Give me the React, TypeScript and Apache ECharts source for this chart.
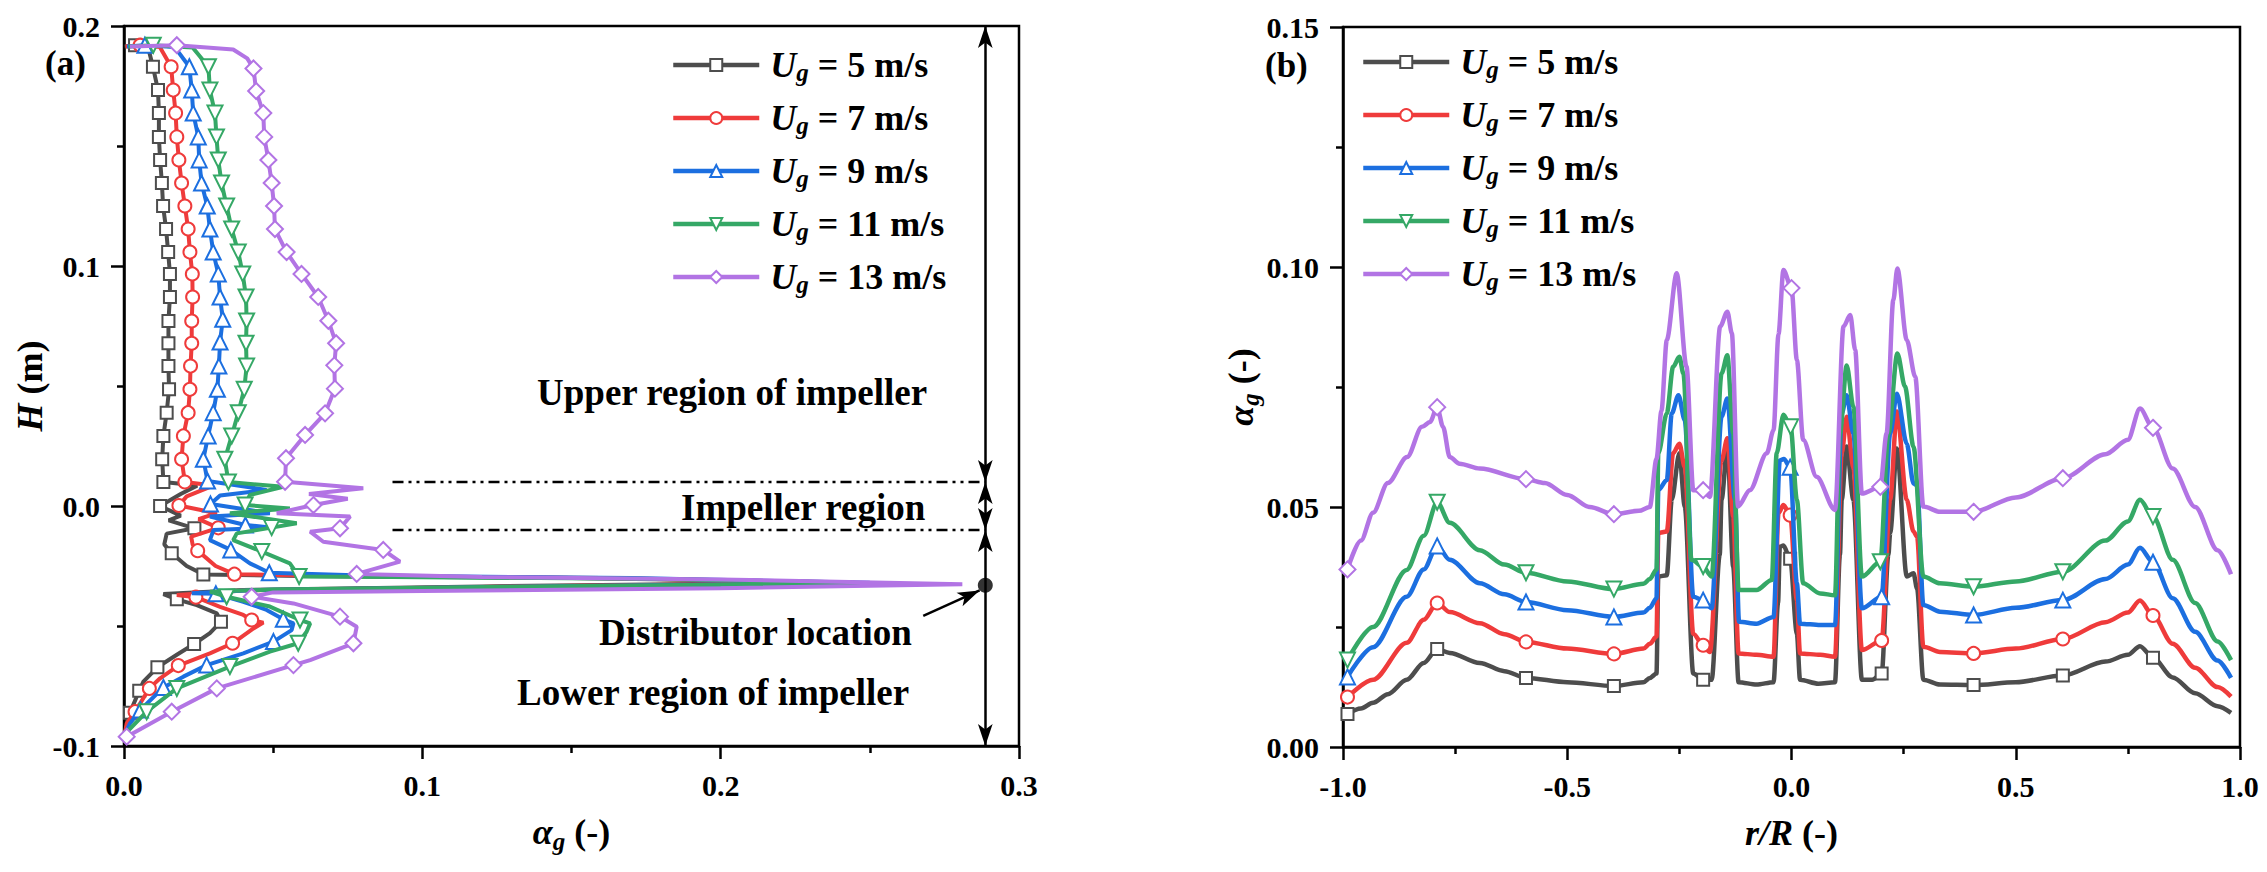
import React, { useEffect, useRef } from 'react';
import * as echarts from 'echarts';

const FONT = '"Liberation Serif", "Times New Roman", serif';

// ---- categories / legend ----
const speeds = [5, 7, 9, 11, 13];
const seriesNames = speeds.map((s) => `U_g = ${s} m/s`);

// ---- axis ranges [min, max, interval] ----
const leftX = [0, 0.3, 0.1];
const leftY = [-0.1, 0.2, 0.1];
const rightX = [-1, 1, 0.5];
const rightY = [0, 0.15, 0.05];

// ---- annotations (panel a) ----
const regionBounds = [0.2, 0.01, -0.01, -0.1];
const annotX = 0.2887;
const dashStartX = 0.09;
const distributorH = -0.033;
const pointerFrom = [0.2679, -0.0458];
const pointerTo = [0.2868, -0.0352];

// ---- panel (a): [alpha_g, H, marker] ----
const a5 = [
  [0.0002, 0.1915, 0], [0.0037, 0.192, 1], [0.008, 0.1915, 0], [0.0097, 0.183, 1], [0.0114, 0.1733, 1],
  [0.0117, 0.1637, 1], [0.0117, 0.1538, 1], [0.0121, 0.1442, 1], [0.0127, 0.1346, 1], [0.0131, 0.125, 1],
  [0.0141, 0.1154, 1], [0.0148, 0.1058, 1], [0.0154, 0.0967, 1], [0.0154, 0.0871, 1], [0.0149, 0.0771, 1],
  [0.0149, 0.0678, 1], [0.0149, 0.0583, 1], [0.0151, 0.0486, 1], [0.0143, 0.0389, 1], [0.0132, 0.0292, 1],
  [0.0128, 0.0195, 1], [0.0132, 0.01, 1], [0.0245, 0.0085, 0], [0.019, 0.005, 0], [0.0121, 0.0, 1],
  [0.019, -0.004, 0], [0.015, -0.006, 0], [0.0236, -0.0093, 1], [0.0143, -0.0115, 0], [0.0135, -0.016, 0],
  [0.016, -0.0197, 1], [0.021, -0.025, 0], [0.0266, -0.0285, 1], [0.06, -0.0292, 0], [0.15, -0.03, 0],
  [0.24, -0.0318, 0], [0.12, -0.0335, 0], [0.04, -0.035, 0], [0.0132, -0.0367, 0], [0.0177, -0.0389, 1],
  [0.0244, -0.0413, 0], [0.0311, -0.0447, 0], [0.0325, -0.0482, 1], [0.0288, -0.053, 0], [0.0235, -0.0575, 1],
  [0.0177, -0.062, 0], [0.0112, -0.0672, 1], [0.0065, -0.0732, 0], [0.0051, -0.077, 1], [0.002, -0.0861, 1],
  [0.0003, -0.0947, 0],
];
const a7 = [
  [0.0005, 0.1915, 0], [0.0054, 0.192, 1], [0.012, 0.1912, 0], [0.0158, 0.183, 1], [0.0165, 0.1733, 1],
  [0.0173, 0.1637, 1], [0.0177, 0.1538, 1], [0.0184, 0.1442, 1], [0.0193, 0.1346, 1], [0.0204, 0.125, 1],
  [0.0215, 0.1154, 1], [0.0221, 0.1058, 1], [0.0229, 0.0967, 1], [0.023, 0.0871, 1], [0.0227, 0.0771, 1],
  [0.0227, 0.0678, 1], [0.0223, 0.0583, 1], [0.0221, 0.0486, 1], [0.0215, 0.0389, 1], [0.0199, 0.0292, 1],
  [0.0193, 0.0195, 1], [0.0204, 0.01, 1], [0.0299, 0.0085, 0], [0.021, 0.004, 0], [0.0184, 0.0002, 1],
  [0.0311, -0.003, 0], [0.025, -0.0055, 0], [0.0316, -0.0091, 1], [0.0225, -0.0128, 0], [0.023, -0.016, 0],
  [0.0247, -0.0186, 1], [0.0307, -0.025, 0], [0.037, -0.0284, 1], [0.07, -0.0292, 0], [0.16, -0.03, 0],
  [0.245, -0.032, 0], [0.12, -0.0337, 0], [0.04, -0.0352, 0], [0.0177, -0.0371, 0], [0.0241, -0.038, 1],
  [0.0322, -0.042, 0], [0.04, -0.0454, 0], [0.0428, -0.0475, 1], [0.0467, -0.0486, 0], [0.0434, -0.051, 0],
  [0.0364, -0.0572, 1], [0.0288, -0.0614, 0], [0.0182, -0.0665, 1], [0.0121, -0.0718, 0], [0.0085, -0.076, 1],
  [0.0037, -0.0857, 1], [0.0009, -0.0906, 0], [0.0003, -0.0947, 0],
];
const a9 = [
  [0.001, 0.1915, 0], [0.007, 0.192, 1], [0.017, 0.1912, 0], [0.0219, 0.183, 1], [0.0227, 0.1733, 1],
  [0.0232, 0.1637, 1], [0.0249, 0.1538, 1], [0.0252, 0.1442, 1], [0.026, 0.1346, 1], [0.0279, 0.125, 1],
  [0.0288, 0.1154, 1], [0.0299, 0.1058, 1], [0.0316, 0.0967, 1], [0.0322, 0.0871, 1], [0.0331, 0.0778, 1],
  [0.0322, 0.0683, 1], [0.0318, 0.0583, 1], [0.0313, 0.0486, 1], [0.0299, 0.0389, 1], [0.0282, 0.0292, 1],
  [0.0266, 0.0195, 1], [0.028, 0.0104, 1], [0.0478, 0.0067, 0], [0.0322, 0.0044, 0], [0.029, 0.0008, 1],
  [0.0489, -0.003, 0], [0.0288, -0.0044, 0], [0.0407, -0.0079, 1], [0.049, -0.009, 0], [0.03, -0.01, 0],
  [0.0288, -0.0142, 0], [0.0358, -0.0183, 1], [0.0422, -0.0239, 0], [0.0487, -0.0278, 1], [0.08, -0.029, 0],
  [0.17, -0.03, 0], [0.25, -0.032, 0], [0.13, -0.0336, 0], [0.045, -0.035, 0], [0.0227, -0.0364, 0],
  [0.0308, -0.0366, 1], [0.04, -0.0399, 0], [0.0478, -0.0433, 0], [0.0534, -0.0472, 1], [0.0568, -0.0489, 0],
  [0.0562, -0.0517, 0], [0.0501, -0.0565, 1], [0.04, -0.0614, 0], [0.0277, -0.0663, 1], [0.0199, -0.0711, 0],
  [0.0132, -0.0756, 1], [0.0055, -0.085, 1], [0.002, -0.0906, 0], [0.0003, -0.095, 0],
];
const a11 = [
  [0.0015, 0.1915, 0], [0.0098, 0.192, 1], [0.023, 0.191, 0], [0.0283, 0.183, 1], [0.0288, 0.1733, 1],
  [0.0305, 0.1637, 1], [0.031, 0.1538, 1], [0.0316, 0.1442, 1], [0.0327, 0.1346, 1], [0.0344, 0.125, 1],
  [0.0361, 0.1154, 1], [0.0383, 0.1058, 1], [0.0398, 0.0967, 1], [0.0409, 0.0871, 1], [0.0411, 0.0771, 1],
  [0.0409, 0.0678, 1], [0.0411, 0.0583, 1], [0.0403, 0.0486, 1], [0.0383, 0.0389, 1], [0.0361, 0.0292, 1],
  [0.0338, 0.0195, 1], [0.035, 0.01, 1], [0.0534, 0.008, 0], [0.0422, 0.0046, 0], [0.0406, 0.0004, 1],
  [0.0556, -0.001, 0], [0.0355, -0.003, 0], [0.0579, -0.0072, 0], [0.0495, -0.009, 1], [0.0378, -0.0114, 0],
  [0.0366, -0.0142, 0], [0.0462, -0.019, 1], [0.0556, -0.0239, 0], [0.0587, -0.0294, 1], [0.09, -0.0296, 0],
  [0.18, -0.0304, 0], [0.252, -0.0322, 0], [0.13, -0.0336, 0], [0.05, -0.0348, 0], [0.0288, -0.0357, 0],
  [0.0344, -0.0378, 1], [0.0489, -0.0419, 0], [0.059, -0.0475, 1], [0.0624, -0.0489, 0], [0.0612, -0.0524, 0],
  [0.0584, -0.0572, 1], [0.0489, -0.0607, 0], [0.0355, -0.0669, 1], [0.0177, -0.076, 1], [0.0076, -0.0857, 1],
  [0.0003, -0.095, 0],
];
const a13 = [
  [0.002, 0.1915, 0], [0.0177, 0.192, 1], [0.0366, 0.1902, 0], [0.0413, 0.1865, 0], [0.0434, 0.1823, 1],
  [0.0443, 0.1729, 1], [0.0467, 0.1637, 1], [0.047, 0.1538, 1], [0.0484, 0.1442, 1], [0.0495, 0.1346, 1],
  [0.0503, 0.125, 1], [0.0506, 0.1154, 1], [0.0545, 0.1058, 1], [0.0595, 0.0967, 1], [0.0651, 0.0871, 1],
  [0.0685, 0.0772, 1], [0.0711, 0.0678, 1], [0.0705, 0.0586, 1], [0.0707, 0.0489, 1], [0.0674, 0.0386, 1],
  [0.0607, 0.0296, 1], [0.0543, 0.0199, 1], [0.054, 0.0101, 1], [0.0802, 0.0074, 0], [0.062, 0.005, 0],
  [0.075, 0.003, 0], [0.0635, 0.0004, 1], [0.0512, -0.003, 0], [0.0758, -0.0044, 0], [0.0724, -0.0093, 1],
  [0.0624, -0.0107, 0], [0.0668, -0.0149, 0], [0.0869, -0.0183, 1], [0.0925, -0.0232, 0], [0.078, -0.0283, 1],
  [0.12, -0.0296, 0], [0.2, -0.0306, 0], [0.281, -0.0326, 0], [0.2, -0.0343, 0], [0.1, -0.0354, 0],
  [0.05, -0.036, 0], [0.0428, -0.0378, 1], [0.0568, -0.0406, 0], [0.0724, -0.0461, 1], [0.078, -0.0503, 0],
  [0.0769, -0.0572, 1], [0.0624, -0.0642, 0], [0.0568, -0.0663, 1], [0.0311, -0.076, 1], [0.016, -0.0857, 1],
  [0.0009, -0.0961, 1],
];

// ---- panel (b): [r/R, alpha_g, marker] ----
const b5 = [
  [-0.99, 0.0069, 1], [-0.96, 0.008, 0], [-0.933, 0.0092, 0], [-0.9, 0.011, 0], [-0.858, 0.014, 0], [-0.82, 0.0175, 0],
  [-0.79, 0.0204, 1], [-0.762, 0.0196, 0], [-0.695, 0.0175, 0], [-0.64, 0.0158, 0], [-0.592, 0.0144, 1], [-0.5, 0.0135, 0],
  [-0.396, 0.0127, 1], [-0.33, 0.0135, 0], [-0.316, 0.0144, 0], [-0.301, 0.0153, 0], [-0.297, 0.0355, 0], [-0.278, 0.0358, 0],
  [-0.267, 0.0515, 0], [-0.25, 0.0612, 0], [-0.238, 0.0501, 0], [-0.219, 0.0153, 0], [-0.197, 0.014, 1], [-0.178, 0.014, 0],
  [-0.16, 0.04, 0], [-0.156, 0.0515, 0], [-0.143, 0.0626, 0], [-0.13, 0.0376, 0], [-0.118, 0.0135, 0], [-0.078, 0.013, 0],
  [-0.04, 0.0135, 0], [-0.03, 0.03, 0], [-0.026, 0.0417, 0], [-0.018, 0.042, 0], [-0.003, 0.0392, 1], [0.012, 0.0236, 0],
  [0.019, 0.014, 0], [0.06, 0.0132, 0], [0.097, 0.0135, 0], [0.108, 0.04, 0], [0.112, 0.0515, 0], [0.123, 0.0626, 0],
  [0.138, 0.0515, 0], [0.157, 0.014, 0], [0.18, 0.014, 0], [0.201, 0.0153, 1], [0.216, 0.04, 0], [0.22, 0.0446, 0],
  [0.235, 0.0622, 0], [0.257, 0.0355, 0], [0.272, 0.0362, 0], [0.28, 0.033, 0], [0.294, 0.014, 0], [0.331, 0.013, 0],
  [0.406, 0.0129, 1], [0.5, 0.0135, 0], [0.605, 0.0149, 1], [0.7, 0.0178, 0], [0.75, 0.0192, 0], [0.777, 0.021, 0],
  [0.806, 0.0186, 1], [0.85, 0.0145, 0], [0.9, 0.0112, 0], [0.95, 0.0085, 0], [0.98, 0.0071, 0],
];
const b7 = [
  [-0.99, 0.0104, 1], [-0.933, 0.014, 0], [-0.858, 0.0217, 0], [-0.82, 0.0265, 0], [-0.79, 0.03, 1], [-0.762, 0.0281, 0],
  [-0.695, 0.0258, 0], [-0.64, 0.0235, 0], [-0.592, 0.0219, 1], [-0.5, 0.0205, 0], [-0.396, 0.0194, 1], [-0.33, 0.0205, 0],
  [-0.316, 0.0215, 0], [-0.301, 0.023, 0], [-0.297, 0.0446, 0], [-0.278, 0.0449, 0], [-0.264, 0.0612, 0], [-0.25, 0.0632, 0],
  [-0.238, 0.0583, 0], [-0.219, 0.0236, 0], [-0.197, 0.0212, 1], [-0.182, 0.0198, 0], [-0.156, 0.0597, 0], [-0.143, 0.0643, 0],
  [-0.13, 0.048, 0], [-0.118, 0.0195, 0], [-0.078, 0.0192, 0], [-0.04, 0.0188, 0], [-0.029, 0.0487, 0], [-0.018, 0.0504, 0],
  [-0.003, 0.0483, 1], [0.012, 0.0306, 0], [0.019, 0.0195, 0], [0.064, 0.0192, 0], [0.097, 0.0188, 0], [0.112, 0.0612, 0],
  [0.123, 0.0688, 0], [0.138, 0.0583, 0], [0.157, 0.0202, 0], [0.201, 0.0222, 1], [0.22, 0.0515, 0], [0.235, 0.0699, 0],
  [0.257, 0.0515, 0], [0.272, 0.0449, 0], [0.28, 0.0438, 0], [0.294, 0.0209, 0], [0.331, 0.0198, 0], [0.406, 0.0195, 1],
  [0.5, 0.0205, 0], [0.605, 0.0225, 1], [0.7, 0.026, 0], [0.75, 0.028, 0], [0.777, 0.0305, 0], [0.806, 0.0274, 1],
  [0.85, 0.0215, 0], [0.9, 0.0165, 0], [0.95, 0.0125, 0], [0.98, 0.0105, 0],
];
const b9 = [
  [-0.99, 0.0146, 1], [-0.933, 0.0208, 0], [-0.858, 0.0313, 0], [-0.82, 0.037, 0], [-0.79, 0.0419, 1], [-0.762, 0.039, 0],
  [-0.695, 0.0341, 0], [-0.64, 0.0318, 0], [-0.592, 0.0302, 1], [-0.5, 0.0285, 0], [-0.396, 0.0271, 1], [-0.33, 0.028, 0],
  [-0.316, 0.029, 0], [-0.301, 0.031, 0], [-0.297, 0.0535, 0], [-0.278, 0.0556, 0], [-0.267, 0.0695, 0], [-0.252, 0.0733, 0],
  [-0.238, 0.0681, 0], [-0.219, 0.0313, 0], [-0.197, 0.0306, 1], [-0.178, 0.0289, 0], [-0.156, 0.0688, 0], [-0.143, 0.0726, 0],
  [-0.126, 0.0515, 0], [-0.117, 0.0261, 0], [-0.078, 0.0257, 0], [-0.04, 0.0271, 0], [-0.026, 0.0597, 0], [-0.017, 0.06, 0],
  [-0.003, 0.0583, 1], [0.012, 0.0341, 0], [0.019, 0.0257, 0], [0.064, 0.0254, 0], [0.097, 0.0254, 0], [0.112, 0.0695, 0],
  [0.123, 0.0733, 0], [0.138, 0.0653, 0], [0.157, 0.0289, 0], [0.201, 0.0313, 1], [0.22, 0.0653, 0], [0.235, 0.0736, 0],
  [0.257, 0.0632, 0], [0.272, 0.0549, 0], [0.28, 0.0545, 0], [0.294, 0.0296, 0], [0.331, 0.0282, 0], [0.406, 0.0275, 1],
  [0.5, 0.029, 0], [0.605, 0.0306, 1], [0.7, 0.035, 0], [0.75, 0.038, 0], [0.777, 0.0415, 0], [0.806, 0.0385, 1],
  [0.85, 0.031, 0], [0.9, 0.024, 0], [0.95, 0.018, 0], [0.98, 0.0144, 0],
];
const b11 = [
  [-0.99, 0.0181, 1], [-0.933, 0.025, 0], [-0.858, 0.0369, 0], [-0.82, 0.044, 0], [-0.79, 0.051, 1], [-0.762, 0.0467, 0],
  [-0.695, 0.041, 0], [-0.64, 0.038, 0], [-0.592, 0.0363, 1], [-0.5, 0.0345, 0], [-0.396, 0.0329, 1], [-0.33, 0.034, 0],
  [-0.316, 0.035, 0], [-0.301, 0.037, 0], [-0.297, 0.0612, 0], [-0.278, 0.0695, 0], [-0.264, 0.0792, 0], [-0.25, 0.0813, 0],
  [-0.241, 0.0778, 0], [-0.223, 0.039, 0], [-0.197, 0.0376, 1], [-0.178, 0.0355, 0], [-0.156, 0.0778, 0], [-0.143, 0.0816, 0],
  [-0.13, 0.0653, 0], [-0.118, 0.0327, 0], [-0.078, 0.0327, 0], [-0.044, 0.0348, 0], [-0.033, 0.0612, 0], [-0.018, 0.0692, 0],
  [-0.002, 0.0667, 1], [0.012, 0.0515, 0], [0.026, 0.0341, 0], [0.064, 0.032, 0], [0.097, 0.0316, 0], [0.108, 0.0653, 0],
  [0.123, 0.0795, 0], [0.138, 0.0709, 0], [0.157, 0.0355, 0], [0.198, 0.0386, 1], [0.216, 0.0653, 0], [0.236, 0.082, 0],
  [0.253, 0.0751, 0], [0.272, 0.0626, 0], [0.294, 0.0355, 0], [0.331, 0.0341, 0], [0.406, 0.0334, 1], [0.5, 0.0345, 0],
  [0.605, 0.0365, 1], [0.7, 0.043, 0], [0.75, 0.047, 0], [0.777, 0.0515, 0], [0.806, 0.048, 1], [0.85, 0.039, 0],
  [0.9, 0.03, 0], [0.95, 0.022, 0], [0.98, 0.0181, 0],
];
const b13 = [
  [-0.99, 0.037, 1], [-0.96, 0.043, 0], [-0.933, 0.0488, 0], [-0.9, 0.055, 0], [-0.857, 0.0604, 0], [-0.824, 0.0667, 0],
  [-0.806, 0.0677, 0], [-0.79, 0.0708, 1], [-0.777, 0.0667, 0], [-0.762, 0.0604, 0], [-0.74, 0.059, 0], [-0.695, 0.058, 0],
  [-0.592, 0.0558, 1], [-0.55, 0.055, 0], [-0.5, 0.0525, 0], [-0.45, 0.05, 0], [-0.396, 0.0485, 1], [-0.34, 0.0492, 0],
  [-0.316, 0.05, 0], [-0.301, 0.06, 0], [-0.29, 0.07, 0], [-0.278, 0.0848, 0], [-0.256, 0.0987, 0], [-0.234, 0.0792, 0],
  [-0.219, 0.0535, 0], [-0.197, 0.0535, 1], [-0.182, 0.0521, 0], [-0.159, 0.0876, 0], [-0.143, 0.0907, 0], [-0.133, 0.0862, 0],
  [-0.119, 0.0501, 0], [-0.093, 0.0535, 0], [-0.055, 0.0612, 0], [-0.04, 0.066, 0], [-0.029, 0.086, 0], [-0.018, 0.0994, 0],
  [0.0, 0.0956, 1], [0.012, 0.0806, 0], [0.026, 0.064, 0], [0.056, 0.0563, 0], [0.097, 0.0494, 0], [0.116, 0.0876, 0],
  [0.131, 0.09, 0], [0.142, 0.0827, 0], [0.157, 0.0528, 0], [0.198, 0.0542, 1], [0.212, 0.0653, 0], [0.227, 0.0931, 0],
  [0.236, 0.0997, 0], [0.257, 0.0848, 0], [0.276, 0.0771, 0], [0.294, 0.0501, 0], [0.331, 0.049, 0], [0.406, 0.049, 1],
  [0.5, 0.052, 0], [0.605, 0.056, 1], [0.7, 0.061, 0], [0.75, 0.064, 0], [0.777, 0.0705, 0], [0.806, 0.0665, 1],
  [0.85, 0.058, 0], [0.9, 0.05, 0], [0.95, 0.041, 0], [0.98, 0.036, 0],
];

const leftProfiles = [a5, a7, a9, a11, a13];
const rightProfiles = [b5, b7, b9, b11, b13];

// ---- styles ----
const colors = ['#4d4d4d', '#ef3b3b', '#1c6fe0', '#35a866', '#b274e4'];
const symbols = ['emptyRect', 'emptyCircle', 'emptyTriangle', 'emptyTriangle', 'emptyDiamond'];
const symbolRotates = [0, 0, 0, 180, 0];
const symbolSizes = [12, 13, 15, 15, 16];

const toItems = (arr: number[][]) =>
  arr.map((p) => (p[2] ? [p[0], p[1]] : { value: [p[0], p[1]], symbol: 'none' }));

const nameRich = {
  a: { fontFamily: FONT, fontSize: 36, fontWeight: 'bold', fontStyle: 'italic', lineHeight: 44, color: '#000' },
  s: { fontFamily: FONT, fontSize: 25, fontWeight: 'bold', fontStyle: 'italic', lineHeight: 22, verticalAlign: 'bottom', color: '#000' },
  b: { fontFamily: FONT, fontSize: 36, fontWeight: 'bold', lineHeight: 44, color: '#000' },
};

const legendRich = {
  u: { fontFamily: FONT, fontSize: 36, fontWeight: 'bold', fontStyle: 'italic', lineHeight: 40, color: '#000', padding: [0, 0, 0, 6] },
  g: { fontFamily: FONT, fontSize: 25, fontWeight: 'bold', fontStyle: 'italic', lineHeight: 20, verticalAlign: 'bottom', color: '#000' },
  t: { fontFamily: FONT, fontSize: 36, fontWeight: 'bold', lineHeight: 40, color: '#000' },
};

function makeAxis(range: number[], gridIndex: number, decimals: number, name: string, nameGap: number, isY: boolean) {
  return {
    type: 'value',
    gridIndex,
    min: range[0],
    max: range[1],
    interval: range[2],
    name,
    nameLocation: 'middle',
    nameGap,
    nameRotate: isY ? 90 : 0,
    nameTextStyle: { rich: nameRich },
    axisLine: { show: true, onZero: false, lineStyle: { color: '#000', width: 2.5 } },
    axisTick: { show: true, inside: false, length: 13, lineStyle: { color: '#000', width: 2.5 } },
    minorTick: { show: true, splitNumber: 2, length: 7, lineStyle: { color: '#000', width: 2.5 } },
    splitLine: { show: false },
    minorSplitLine: { show: false },
    axisLabel: {
      margin: 24,
      fontFamily: FONT,
      fontSize: 30,
      fontWeight: 'bold',
      color: '#000',
      formatter: (v: number) => v.toFixed(decimals),
    },
  };
}

function buildOption() {
  const series: any[] = [];
  leftProfiles.forEach((d, i) => {
    series.push({
      type: 'line', name: seriesNames[i], xAxisIndex: 0, yAxisIndex: 0,
      data: toItems(d), symbol: symbols[i], symbolSize: symbolSizes[i], symbolRotate: symbolRotates[i],
      lineStyle: { color: colors[i], width: 4 }, itemStyle: { color: colors[i], borderWidth: 2.2 },
      z: 3 + i, silent: true,
    });
  });
  rightProfiles.forEach((d, i) => {
    series.push({
      type: 'line', name: seriesNames[i], xAxisIndex: 1, yAxisIndex: 1,
      data: toItems(d), symbol: symbols[i], symbolSize: symbolSizes[i], symbolRotate: symbolRotates[i],
      smooth: 0.3, smoothMonotone: 'x',
      lineStyle: { color: colors[i], width: 4.5 }, itemStyle: { color: colors[i], borderWidth: 2.2 },
      z: 3 + i, silent: true,
    });
  });
  [regionBounds[1], regionBounds[2]].forEach((h) => {
    series.push({
      type: 'line', xAxisIndex: 0, yAxisIndex: 0, silent: true, symbol: 'none', z: 2,
      data: [[dashStartX, h], [annotX, h]],
      lineStyle: { color: '#000', width: 2.5, type: [11, 5, 3, 5, 3, 5] },
    });
  });
  series.push({
    type: 'scatter', xAxisIndex: 0, yAxisIndex: 0, silent: true, z: 10,
    data: [[annotX, distributorH]], symbolSize: 15, itemStyle: { color: '#000' },
    markLine: {
      silent: true, symbol: ['arrow', 'arrow'], symbolSize: [11, 22], label: { show: false },
      lineStyle: { color: '#000', width: 2.5, type: 'solid' },
      emphasis: { disabled: true },
      data: [
        [{ coord: [annotX, regionBounds[0]] }, { coord: [annotX, regionBounds[1]] }],
        [{ coord: [annotX, regionBounds[1]] }, { coord: [annotX, regionBounds[2]] }],
        [{ coord: [annotX, regionBounds[2]] }, { coord: [annotX, regionBounds[3]] }],
        [{ coord: pointerFrom, symbol: 'none' }, { coord: pointerTo, symbol: 'arrow' }],
      ],
    },
  });

  const legendBase = {
    orient: 'vertical', itemWidth: 86, itemHeight: 15, itemGap: 15, selectedMode: false,
    data: seriesNames,
    formatter: (n: string) => `{u|U}{g|g}{t|${n.slice(3)}}`,
    textStyle: { rich: legendRich },
    lineStyle: { width: 4.5 },
    itemStyle: { borderWidth: 2.2 },
  };

  const textStyle = (t: string, size: number) => ({
    text: t, fill: '#000', font: `bold ${size}px ${FONT}`, align: 'left', verticalAlign: 'middle',
  });

  return {
    animation: false,
    backgroundColor: '#fff',
    grid: [
      { left: 124, top: 26, width: 895, height: 720, show: true, borderColor: '#000', borderWidth: 2.5, backgroundColor: 'transparent' },
      { left: 1343, top: 27, width: 897, height: 720, show: true, borderColor: '#000', borderWidth: 2.5, backgroundColor: 'transparent' },
    ],
    xAxis: [
      makeAxis(leftX, 0, 1, '{a|α}{s|g}{b| (-)}', 64, false),
      makeAxis(rightX, 1, 1, '{a|r/R}{b| (-)}', 64, false),
    ],
    yAxis: [
      makeAxis(leftY, 0, 1, '{a|H}{b| (m)}', 72, true),
      makeAxis(rightY, 1, 2, '{a|α}{s|g}{b| (-)}', 48, true),
    ],
    legend: [
      { ...legendBase, left: 666, top: 42 },
      { ...legendBase, left: 1356, top: 39 },
    ],
    graphic: [
      { type: 'text', x: 45, y: 63, style: textStyle('(a)', 35) },
      { type: 'text', x: 1265, y: 65, style: textStyle('(b)', 35) },
      { type: 'text', x: 537, y: 392, style: textStyle('Upper region of impeller', 37) },
      { type: 'text', x: 681, y: 507, style: textStyle('Impeller region', 37) },
      { type: 'text', x: 599, y: 632, style: textStyle('Distributor location', 37) },
      { type: 'text', x: 517, y: 692, style: textStyle('Lower region of impeller', 37) },
    ],
    series,
  };
}

export default function App() {
  const ref = useRef<HTMLDivElement>(null);
  useEffect(() => {
    if (!ref.current) return;
    const chart = echarts.init(ref.current, undefined, { renderer: 'svg' });
    chart.setOption(buildOption() as any);
    return () => chart.dispose();
  }, []);
  return (
    <div
      ref={ref}
      style={{ position: 'fixed', left: 0, top: 0, width: 2267, height: 872, background: '#fff' }}
    />
  );
}
